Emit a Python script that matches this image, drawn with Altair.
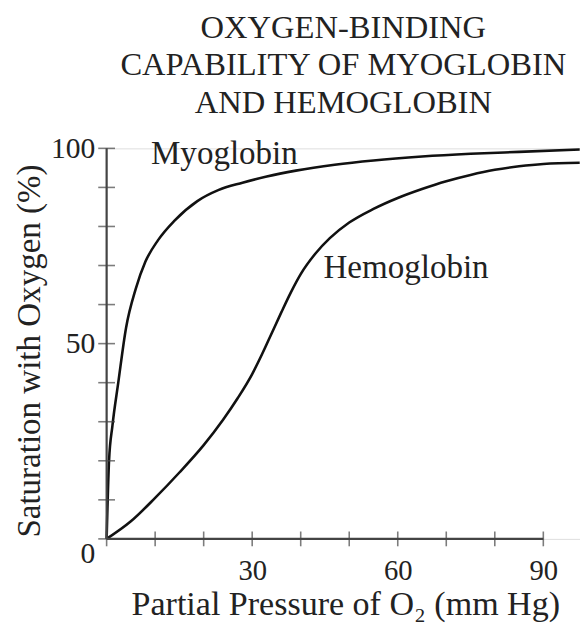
import altair as alt
import pandas as pd

# Data
myo_p = [0, 0.5, 1.2, 2.4, 4, 6, 8, 10.6, 14, 18.7, 23, 28, 33, 39, 47, 55, 65, 75, 85, 97.5]
myo_s = [0, 20, 29, 40, 54, 64, 71, 76.5, 81.5, 86.5, 89.3, 91.2, 92.8, 94.3, 95.8, 96.9, 97.9, 98.6, 99.1, 99.7]

hem_p = [0, 5, 10, 15, 20, 24, 27, 30, 32, 34, 36, 38, 40, 43, 46, 50, 55, 60, 65, 70, 75, 80, 85, 90, 97.5]
hem_s = [0, 4.5, 10.5, 17, 24, 30.5, 36, 42.2, 47.2, 52.6, 58, 63.2, 67.8, 73, 77, 81, 84.5, 87.3, 89.6, 91.6, 93.2, 94.5, 95.4, 96, 96.3]

x_ticks = [0, 10, 20, 30, 40, 50, 60, 70, 80, 90]
y_ticks = [0, 10, 20, 30, 40, 50, 60, 70, 80, 90, 100]
x_labels = [30, 60, 90]
y_labels = [0, 50, 100]

labels = ["Myoglobin", "Hemoglobin"]
label_p = [9.15, 44.7]
label_s = [96, 66.7]

title_lines = ["OXYGEN-BINDING", "CAPABILITY OF MYOGLOBIN", "AND HEMOGLOBIN"]

FONT = "Liberation Serif"
INK = "#222222"

curves = pd.DataFrame(
    {"p": myo_p + hem_p,
     "s": myo_s + hem_s,
     "curve": ["Myoglobin"] * len(myo_p) + ["Hemoglobin"] * len(hem_p)}
)
xt = pd.DataFrame({"p": x_ticks})
yt = pd.DataFrame({"s": y_ticks})
lab = pd.DataFrame({"p": label_p, "s": label_s, "t": labels})

xs = alt.Scale(domain=[0, 97.56], nice=False, zero=False)
ys = alt.Scale(domain=[0, 100], nice=False)

xaxis = alt.Axis(
    values=x_labels, domain=False, ticks=False, tickSize=0, grid=False,
    labelFont=FONT, labelFontSize=29, labelColor=INK, labelPadding=18,
    labelBaseline="top",
    title="Partial Pressure of O₂ (mm Hg)", titleFont=FONT, titleFontSize=34.5,
    titleFontWeight="normal", titleColor=INK, titleX=242, titleY=77,
    titleBaseline="alphabetic", titleAlign="center",
)
yaxis = alt.Axis(
    values=y_labels, domain=False, ticks=False, tickSize=0, grid=False,
    labelFont=FONT, labelFontSize=30, labelColor=INK, labelPadding=12,
    labelBaseline=alt.ExprRef("datum.value == 0 ? 'top' : 'middle'"),
    title="Saturation with Oxygen (%)", titleFont=FONT, titleFontSize=33.5,
    titleFontWeight="normal", titleColor=INK, titleX=-68, titleY=205,
    titleAngle=270, titleBaseline="alphabetic", titleAlign="center",
)

lines = alt.Chart(curves).mark_line(
    color="#111111", strokeWidth=2.6, interpolate="monotone", clip=False
).encode(
    x=alt.X("p:Q", scale=xs, axis=xaxis),
    y=alt.Y("s:Q", scale=ys, axis=yaxis),
    detail="curve:N",
)

x_axis_line = alt.Chart(pd.DataFrame({"a": [0], "b": [90], "s": [0]})).mark_rule(
    color="#444444", strokeWidth=2.2
).encode(x=alt.X("a:Q", scale=xs), x2="b:Q", y=alt.Y("s:Q", scale=ys))

y_axis_line = alt.Chart(pd.DataFrame({"p": [0], "a": [0], "b": [100]})).mark_rule(
    color="#444444", strokeWidth=2.2
).encode(x=alt.X("p:Q", scale=xs), y=alt.Y("a:Q", scale=ys), y2="b:Q")

x_tick_marks = alt.Chart(xt).mark_tick(
    orient="vertical", size=15, thickness=1.6, color="#444444"
).encode(x=alt.X("p:Q", scale=xs), y=alt.datum(0, scale=ys))

y_tick_marks = alt.Chart(yt).mark_tick(
    orient="horizontal", size=17, thickness=1.6, color="#444444"
).encode(y=alt.Y("s:Q", scale=ys), x=alt.datum(0, scale=xs))

texts = alt.Chart(lab).mark_text(
    font=FONT, fontSize=33.5, color=INK, align="left", baseline="alphabetic"
).encode(x=alt.X("p:Q", scale=xs), y=alt.Y("s:Q", scale=ys), text="t:N")

chart = alt.layer(
    lines, x_axis_line, y_axis_line, x_tick_marks, y_tick_marks, texts
).properties(
    width=480, height=396,
    title=alt.TitleParams(
        title_lines, font=FONT, fontSize=33, fontWeight="normal", color=INK,
        lineHeight=38, anchor="middle", dx=0, offset=14,
    ),
    autosize=alt.AutoSizeParams(type="none"),
    padding={"left": 100, "top": 138, "right": 0, "bottom": 84},
).configure_view(stroke=None).configure(background="white")

chart.save("out.html", embed_options={"renderer": "svg", "actions": False})
